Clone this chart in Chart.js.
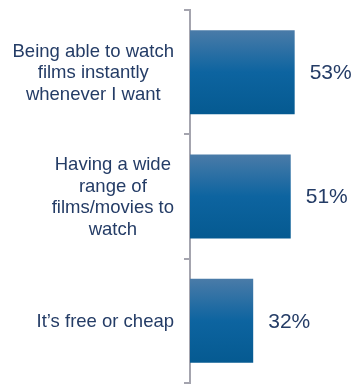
<!DOCTYPE html>
<html>
<head>
<meta charset="utf-8">
<script src="https://cdn.jsdelivr.net/npm/chart.js@4/dist/chart.umd.min.js"></script>
<style>
  html, body { margin: 0; padding: 0; background: #ffffff; }
  #wrap { width: 353px; height: 388px; }
</style>
</head>
<body>
<div id="wrap"><canvas id="chart" width="353" height="388"></canvas></div>
<script>
// Reasons given, one wrapped label per bar
const categories = [
  ["Being able to watch", "films instantly", "whenever I want"],
  ["Having a wide", "range of", "films/movies to", "watch"],
  ["It’s free or cheap"]
];
const shares = [53, 51, 32];
const valueLabels = ["53%", "51%", "32%"];

const TEXT = '#243c66';
const AXIS = '#a4a4ae';
const FONT = '"Liberation Sans", Arial, sans-serif';
const BAR_PCT = 0.676;

function barGradient(ctx) {
  const chart = ctx.chart;
  const y = chart.scales.y;
  if (!chart.chartArea || !y || ctx.dataIndex === undefined) return '#0b64a0';
  const c = y.getPixelForValue(ctx.dataIndex);
  const half = Math.abs(y.getPixelForValue(1) - y.getPixelForValue(0)) * BAR_PCT / 2;
  const g = chart.ctx.createLinearGradient(0, c - half, 0, c + half);
  g.addColorStop(0, '#4a7ba8');
  g.addColorStop(0.5, '#0d64a0');
  g.addColorStop(1, '#055a91');
  return g;
}

// Wrapped category text, each block centred on its own lines and right-aligned to the axis
const categoryLabels = {
  id: 'categoryLabels',
  afterDraw(chart) {
    const { ctx, chartArea, scales: { y } } = chart;
    ctx.save();
    ctx.font = '18.5px ' + FONT;
    ctx.fillStyle = TEXT;
    ctx.textAlign = 'center';
    ctx.textBaseline = 'middle';
    const lh = 21.7;
    const right = chartArea.left - 16;
    categories.forEach((lines, i) => {
      const w = Math.max(...lines.map(s => ctx.measureText(s).width));
      const cx = right - w / 2;
      const cy = y.getPixelForValue(i);
      const top = cy - (lines.length - 1) * lh / 2;
      lines.forEach((s, k) => ctx.fillText(s, cx, top + k * lh + 1));
    });
    ctx.restore();
  }
};

// Percentages printed just past the end of each bar
const valueText = {
  id: 'valueText',
  afterDatasetsDraw(chart) {
    const { ctx } = chart;
    const meta = chart.getDatasetMeta(0);
    ctx.save();
    ctx.font = '21px ' + FONT;
    ctx.fillStyle = TEXT;
    ctx.textAlign = 'left';
    ctx.textBaseline = 'middle';
    meta.data.forEach((bar, i) => {
      ctx.fillText(valueLabels[i], bar.x + 15, bar.y + 1);
    });
    ctx.restore();
  }
};

new Chart(document.getElementById('chart'), {
  type: 'bar',
  data: {
    labels: categories,
    datasets: [{
      data: shares,
      backgroundColor: barGradient,
      borderWidth: 0,
      categoryPercentage: 1,
      barPercentage: BAR_PCT
    }]
  },
  options: {
    indexAxis: 'y',
    responsive: false,
    animation: false,
    events: [],
    layout: { padding: { left: 184, right: 5, top: 10, bottom: 5 } },
    plugins: { legend: { display: false }, tooltip: { enabled: false } },
    scales: {
      x: { display: false, min: 0, max: 80 },
      y: {
        position: 'left',
        grid: { offset: true, drawOnChartArea: false, drawTicks: true, tickLength: 6, color: AXIS, lineWidth: 2 },
        border: { display: true, color: AXIS, width: 2 },
        ticks: { display: false }
      }
    }
  },
  plugins: [categoryLabels, valueText]
});
</script>
</body>
</html>
